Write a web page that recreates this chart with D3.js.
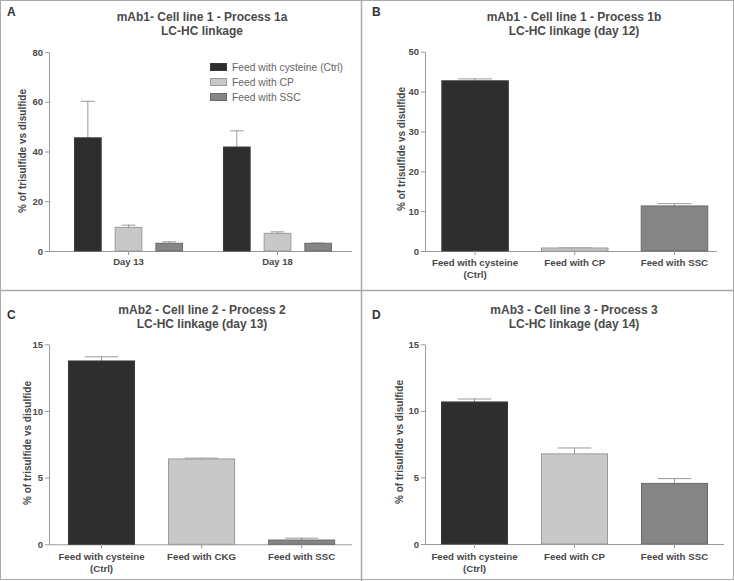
<!DOCTYPE html>
<html><head><meta charset="utf-8">
<script src="https://cdn.jsdelivr.net/npm/d3@7"></script>
<style>body{margin:0;background:#fff;} svg{display:block;font-family:"Liberation Sans",Arial,sans-serif;}</style>
</head><body>
<svg id="c" width="734" height="581"></svg>
<script>
// ---------- DATA ----------
const seriesNames = ["Feed with cysteine (Ctrl)", "Feed with CP", "Feed with SSC"];
const aGroups = ["Day 13", "Day 18"];
const aMeans = [[45.5, 9.5, 3.1], [41.8, 7.1, 3.1]];
const aErr = [[14.9, 1.1, 0.8], [6.7, 0.8, 0.3]];
const aTicks = [0, 20, 40, 60, 80];

const bCats = ["Feed with cysteine|(Ctrl)", "Feed with CP", "Feed with SSC"];
const bMeans = [42.7, 0.75, 11.3];
const bErr = [0.6, 0.15, 0.7];
const bTicks = [0, 10, 20, 30, 40, 50];

const cCats = ["Feed with cysteine|(Ctrl)", "Feed with CKG", "Feed with SSC"];
const cMeans = [13.75, 6.4, 0.32];
const cErr = [0.35, 0.1, 0.18];
const cTicks = [0, 5, 10, 15];

const dCats = ["Feed with cysteine|(Ctrl)", "Feed with CP", "Feed with SSC"];
const dMeans = [10.67, 6.77, 4.55];
const dErr = [0.26, 0.48, 0.4];
const dTicks = [0, 5, 10, 15];

const titles = {
  A: ["mAb1- Cell line 1 - Process 1a", "LC-HC linkage"],
  B: ["mAb1 - Cell line 1 - Process 1b", "LC-HC linkage (day 12)"],
  C: ["mAb2 - Cell line 2 - Process 2", "LC-HC linkage (day 13)"],
  D: ["mAb3 - Cell line 3 - Process 3", "LC-HC linkage (day 14)"]
};
const yLabel = "% of trisulfide vs disulfide";

// ---------- STYLE ----------
const fills = ["#2e2e2e", "#c8c8c8", "#858585"];
const strokes = ["#3a3a3a", "#9a9a9a", "#6a6a6a"];
const axisCol = "#9a9a9a";
const textCol = "#484848";

const svg = d3.select("#c");

// frame
svg.append("rect").attr("x", 0.5).attr("y", 0.5).attr("width", 733).attr("height", 579)
  .attr("fill", "#fff").attr("stroke", "#aaa");
svg.append("line").attr("x1", 361.5).attr("x2", 361.5).attr("y1", 0).attr("y2", 581).attr("stroke", "#aaa").attr("stroke-width", 1.5);
svg.append("line").attr("x1", 0).attr("x2", 734).attr("y1", 290.5).attr("y2", 290.5).attr("stroke", "#aaa").attr("stroke-width", 1.5);

function drawAxes(g, y, x0, x1, y0, ticks, yl) {
  const ya = g.append("g").attr("transform", `translate(${x0},0)`)
    .call(d3.axisLeft(y).tickValues(ticks).tickSize(4).tickSizeOuter(0).tickPadding(2));
  ya.select(".domain").attr("stroke", axisCol);
  ya.selectAll(".tick line").attr("stroke", axisCol);
  ya.selectAll(".tick text").attr("fill", textCol).style("font-size", "9.5px").style("font-weight", "bold");
  g.append("line").attr("x1", x0).attr("x2", x1).attr("y1", y0 + 0.5).attr("y2", y0 + 0.5).attr("stroke", axisCol);
  g.append("text").attr("transform", `translate(${yl.x},${yl.y}) rotate(-90)`)
    .attr("text-anchor", "middle").attr("fill", textCol)
    .style("font-size", "10px").style("font-weight", "bold").text(yLabel);
}

function drawTitle(g, letter, lp, tl, cx, ty) {
  g.append("text").attr("x", lp[0]).attr("y", lp[1]).attr("fill", "#333")
    .style("font-size", "12px").style("font-weight", "bold").text(letter);
  tl.forEach((t, i) => g.append("text").attr("x", cx).attr("y", ty + i * 14)
    .attr("text-anchor", "middle").attr("fill", "#4a4a4a")
    .style("font-size", "12px").style("font-weight", "bold").text(t));
}

function errBar(g, cx, w, yTop, yVal, col) {
  g.append("line").attr("x1", cx).attr("x2", cx).attr("y1", yVal).attr("y2", yTop).attr("stroke", col);
  g.append("line").attr("x1", cx - w / 4).attr("x2", cx + w / 4).attr("y1", yTop + 0.5).attr("y2", yTop + 0.5).attr("stroke", col);
}

// ---------- PANEL A ----------
(function () {
  const g = svg.append("g");
  const y = d3.scaleLinear().domain([0, 80]).range([251, 52]);
  const x = d3.scaleBand().domain(aGroups).range([49, 352]).paddingInner(0.268).paddingOuter(0.151).align(0.556);
  const x1 = d3.scaleBand().domain(seriesNames).range([0, x.bandwidth()]).paddingInner(0.32).paddingOuter(0);
  drawAxes(g, y, 49, 352, 251, aTicks, {x: 26, y: 151});
  aGroups.forEach((grp, gi) => {
    seriesNames.forEach((s, si) => {
      const bx = x(grp) + x1(s), w = x1.bandwidth();
      errBar(g, bx + w / 2, w, y(aMeans[gi][si] + aErr[gi][si]), y(aMeans[gi][si]), "#999");
      g.append("rect").attr("x", bx + 0.5).attr("y", y(aMeans[gi][si])).attr("width", w - 1)
        .attr("height", y(0) - y(aMeans[gi][si])).attr("fill", fills[si]).attr("stroke", strokes[si]);
    });
    const cx = x(grp) + x.bandwidth() / 2;
    g.append("line").attr("x1", cx).attr("x2", cx).attr("y1", 251).attr("y2", 255).attr("stroke", axisCol);
    g.append("text").attr("x", cx).attr("y", 265).attr("text-anchor", "middle").attr("fill", textCol)
      .style("font-size", "9.5px").style("font-weight", "bold").text(grp);
  });
  seriesNames.forEach((s, si) => {
    const ly = 63 + si * 15;
    g.append("rect").attr("x", 210.5).attr("y", ly + 0.5).attr("width", 16).attr("height", 7)
      .attr("fill", fills[si]).attr("stroke", strokes[si]);
    g.append("text").attr("x", 232).attr("y", ly + 8).attr("fill", "#666")
      .style("font-size", "10.3px").text(s);
  });
  drawTitle(g, "A", [7, 16], titles.A, 202, 21);
})();

function simplePanel(letter, cats, means, errs, ticks, dom, yr, xr, xEnd, bandOpts, ylPos, tcx, tty, labelY) {
  const g = svg.append("g");
  const y = d3.scaleLinear().domain(dom).range(yr);
  const x = d3.scaleBand().domain(cats).range(xr)
    .paddingInner(bandOpts[0]).paddingOuter(bandOpts[1]).align(bandOpts[2]);
  drawAxes(g, y, xr[0], xEnd, yr[0], ticks, ylPos);
  cats.forEach((c, i) => {
    const bx = x(c), w = x.bandwidth();
    errBar(g, bx + w / 2, w, y(means[i] + errs[i]), y(means[i]), "#999");
    g.append("rect").attr("x", bx + 0.5).attr("y", y(means[i])).attr("width", w - 1)
      .attr("height", y(0) - y(means[i])).attr("fill", fills[i]).attr("stroke", strokes[i]);
    const cx = bx + w / 2;
    g.append("line").attr("x1", cx).attr("x2", cx).attr("y1", yr[0]).attr("y2", yr[0] + 4).attr("stroke", axisCol);
    c.split("|").forEach((ln, li) => g.append("text").attr("x", cx).attr("y", labelY + li * 11.5)
      .attr("text-anchor", "middle").attr("fill", textCol)
      .style("font-size", "9.7px").style("font-weight", "bold").text(ln));
  });
  drawTitle(g, letter, letter === "B" || letter === "D" ? [372, letter === "B" ? 16 : 319] : [7, 319], titles[letter], tcx, tty);
}

simplePanel("B", bCats, bMeans, bErr, bTicks, [0, 50], [251, 51.7], [425, 717], 717, [0.323, 0.126, 0.65], {x: 405, y: 149}, 574, 21, 266);
simplePanel("C", cCats, cMeans, cErr, cTicks, [0, 15], [544.3, 344.3], [49, 352], 352, [0.33, 0.179, 0.53], {x: 31, y: 443}, 202, 314, 560);
simplePanel("D", dCats, dMeans, dErr, dTicks, [0, 15], [544, 344.3], [425, 724], 724, [0.33, 0.16, 0.5], {x: 403, y: 442}, 574, 314, 560);
</script>
</body></html>
